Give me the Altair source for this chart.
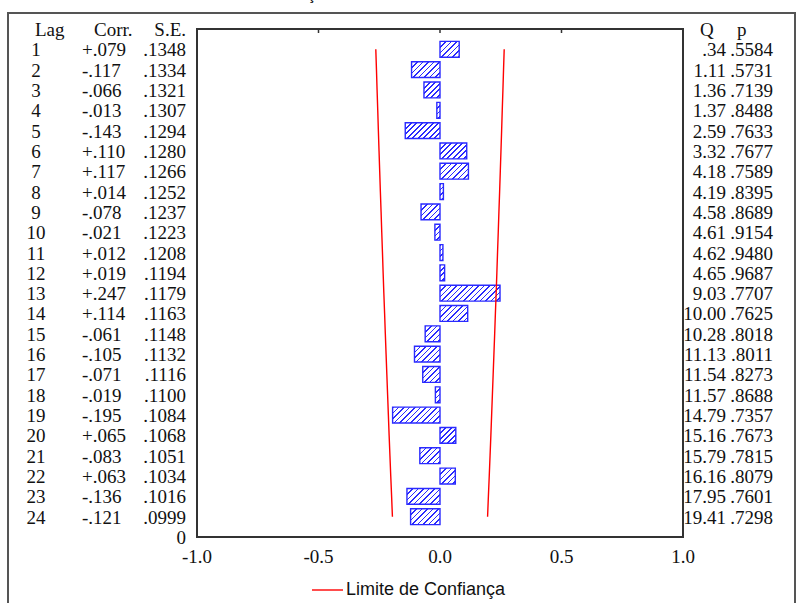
import altair as alt
import pandas as pd

# ---------------- data ----------------
lags = list(range(1, 25))
corr = [0.079, -0.117, -0.066, -0.013, -0.143, 0.110, 0.117, 0.014, -0.078, -0.021,
        0.012, 0.019, 0.247, 0.114, -0.061, -0.105, -0.071, -0.019, -0.195, 0.065,
        -0.083, 0.063, -0.136, -0.121]
corr_labels = ["+.079", "-.117", "-.066", "-.013", "-.143", "+.110", "+.117", "+.014",
               "-.078", "-.021", "+.012", "+.019", "+.247", "+.114", "-.061", "-.105",
               "-.071", "-.019", "-.195", "+.065", "-.083", "+.063", "-.136", "-.121"]
se = [0.1348, 0.1334, 0.1321, 0.1307, 0.1294, 0.1280, 0.1266, 0.1252, 0.1237, 0.1223,
      0.1208, 0.1194, 0.1179, 0.1163, 0.1148, 0.1132, 0.1116, 0.1100, 0.1084, 0.1068,
      0.1051, 0.1034, 0.1016, 0.0999]
q_stat = [".34", "1.11", "1.36", "1.37", "2.59", "3.32", "4.18", "4.19", "4.58", "4.61",
          "4.62", "4.65", "9.03", "10.00", "10.28", "11.13", "11.54", "11.57", "14.79",
          "15.16", "15.79", "16.16", "17.95", "19.41"]
p_val = [".5584", ".5731", ".7139", ".8488", ".7633", ".7677", ".7589", ".8395", ".8689",
         ".9154", ".9480", ".9687", ".7707", ".7625", ".8018", ".8011", ".8273", ".8688",
         ".7357", ".7673", ".7815", ".8079", ".7601", ".7298"]
x_ticks = [-1.0, -0.5, 0.0, 0.5, 1.0]
x_tick_labels = ["-1.0", "-0.5", "0.0", "0.5", "1.0"]
title_text = "Autocorrelação dos Resíduos do Modelo Estimado"
legend_text = "Limite de Confiança"

df = pd.DataFrame({
    "lag": lags,
    "corr": corr,
    "corr_lbl": corr_labels,
    "se": se,
    "se_lbl": [f"{v:.4f}"[1:] for v in se],
    "q": q_stat,
    "p": p_val,
})
ticks_df = pd.DataFrame({"v": x_ticks, "lbl": x_tick_labels})
one = pd.DataFrame({"a": [0]})

# ---------------- layout (pixels) ----------------
PL, PR, PT, PB = 197, 683, 29, 537
XS = alt.Scale(domain=[-1, 1], range=[PL, PR], nice=False, zero=False)
YS = alt.Scale(domain=[0, 25], range=[PT, PB], nice=False, zero=False)
SERIF = "Liberation Serif"
SANS = "Liberation Sans"
FS = 19
BLUE = "#2a2aff"
BAR_HALF = 0.39
px_per_x = (PR - PL) / 2.0
px_per_lag = (PB - PT) / 25.0
bar_h = 2 * BAR_HALF * px_per_lag


def hatch(w, h, period=5.5, stripe=1.6):
    s = (w + h) / (w + h * h / w)
    pt = period / (w + h)
    sw = stripe / (w + h)
    stops = []
    t = 0.0
    while t < 1.0:
        a = min(t, 1.0)
        b = min(t + sw, 1.0)
        c = min(t + pt, 1.0)
        stops += [alt.GradientStop(color=BLUE, offset=a), alt.GradientStop(color=BLUE, offset=b),
                  alt.GradientStop(color="white", offset=b), alt.GradientStop(color="white", offset=c)]
        t += pt
    return alt.LinearGradient(gradient="linear", stops=stops, x1=0, y1=0, x2=s, y2=s * h / w)


layers = []

# frames
layers.append(alt.Chart(one).mark_rect(fill="white", stroke="#555555", strokeWidth=2).encode(
    x=alt.value(8), x2=alt.value(795), y=alt.value(13), y2=alt.value(640)))
layers.append(alt.Chart(one).mark_rect(fill="white", stroke="#333333", strokeWidth=2).encode(
    x=alt.value(PL), x2=alt.value(PR), y=alt.value(PT), y2=alt.value(PB)))

# top tick marks
layers.append(alt.Chart(ticks_df).transform_filter("abs(datum.v) < 1").mark_rule(
    color="#333333", strokeWidth=1.5).encode(
    x=alt.X("v:Q", scale=XS, axis=None), y=alt.value(PT), y2=alt.value(PT + 4)))

# bars with hatch
base = alt.Chart(df).transform_calculate(
    y0=f"datum.lag - {BAR_HALF}", y1=f"datum.lag + {BAR_HALF}", zero="0")
for lag, c in zip(lags, corr):
    w = max(abs(c) * px_per_x, 1.0)
    layers.append(base.transform_filter(alt.datum.lag == lag).mark_rect(
        fill=hatch(w, bar_h), stroke=BLUE, strokeWidth=1.4).encode(
        x=alt.X("corr:Q", scale=XS, axis=None), x2="zero:Q",
        y=alt.Y("y0:Q", scale=YS, axis=None), y2="y1:Q"))

# confidence limits
lim = alt.Chart(df).transform_calculate(hi="1.96*datum.se", lo="-1.96*datum.se")
for fld in ["hi", "lo"]:
    layers.append(lim.mark_line(color="#ff0000", strokeWidth=1.4).encode(
        x=alt.X(f"{fld}:Q", scale=XS, axis=None),
        y=alt.Y("lag:Q", scale=YS, axis=None),
        order=alt.Order("lag:Q")))

# table columns
def col(field, xpix, align):
    return alt.Chart(df).mark_text(font=SERIF, fontSize=FS, align=align, baseline="alphabetic",
                                   dy=7, color="#111111").encode(
        x=alt.value(xpix), y=alt.Y("lag:Q", scale=YS, axis=None), text=f"{field}:N")

layers += [col("lag", 36, "center"), col("corr_lbl", 82, "left"), col("se_lbl", 186, "right"),
           col("q", 726, "right"), col("p", 773, "right")]

def label(txt, xpix, ypix, align, font=SERIF, size=FS, weight="normal"):
    return alt.Chart(one).mark_text(text=txt, font=font, fontSize=size, align=align,
                                    baseline="alphabetic", color="#111111", fontWeight=weight).encode(
        x=alt.value(xpix), y=alt.value(ypix))

layers += [label("Lag", 35, 36, "left"), label("Corr.", 94, 36, "left"),
           label("S.E.", 186, 36, "right"), label("Q", 700, 36, "left"),
           label("p", 737, 36, "left"), label("0", 186, 544, "right")]

# x tick labels
layers.append(alt.Chart(ticks_df).mark_text(font=SERIF, fontSize=FS, align="center",
                                            baseline="alphabetic", color="#111111").encode(
    x=alt.X("v:Q", scale=XS, axis=None), y=alt.value(563), text="lbl:N"))

# legend
layers.append(alt.Chart(one).mark_rule(color="#ff0000", strokeWidth=1.4).encode(
    x=alt.value(312), x2=alt.value(343), y=alt.value(590)))
layers.append(label(legend_text, 346, 595, "left", font=SANS, size=18))

# title (cut off at the top edge, as in the reference)
layers.append(label(title_text, 405, 0, "center", font=SANS, size=15, weight="bold"))

chart = alt.layer(*layers).properties(
    width=800, height=603, padding=0,
    autosize=alt.AutoSizeParams(type="none"),
    background="white",
).configure_view(stroke=None)

chart.save("out.html", embed_options={"renderer": "svg", "actions": False})
